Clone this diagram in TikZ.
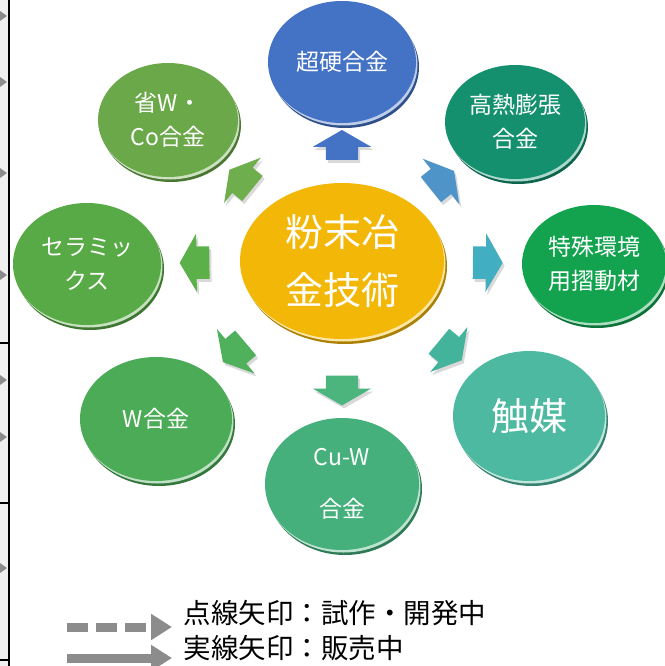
\documentclass[tikz,border=0pt]{standalone}
\usepackage{fontspec}
\setmainfont{Noto Sans CJK JP}
\usetikzlibrary{shapes.geometric,shapes.arrows,arrows.meta}
\definecolor{cgold}{HTML}{F3B707}
\definecolor{cblue}{HTML}{4472C4}
\definecolor{ckou}{HTML}{14906F}
\definecolor{ctoku}{HTML}{13A34F}
\definecolor{csho}{HTML}{4DB9A0}
\definecolor{ccuw}{HTML}{45B07C}
\definecolor{cwg}{HTML}{4CAB57}
\definecolor{ccera}{HTML}{58AA46}
\definecolor{csw}{HTML}{6BA84A}
\definecolor{aur}{HTML}{4E94C8}
\definecolor{ar}{HTML}{41AEC2}
\definecolor{adr}{HTML}{43B49B}
\definecolor{ad}{HTML}{4BB57D}
\definecolor{adl}{HTML}{50B15C}
\definecolor{al}{HTML}{5CB049}
\definecolor{aul}{HTML}{6EAE4C}
\definecolor{lgray}{HTML}{8C8C8C}

\begin{document}
\begin{tikzpicture}[x=1pt,y=-1pt,
  disc/.style={ellipse, fill=#1, text=white, align=center, inner sep=0pt,
    font=\fontsize{23}{34}\selectfont,
    preaction={fill=#1!70!black, transform canvas={shift={(3pt,-5pt)}}},
    preaction={fill=#1!35!white, transform canvas={shift={(1.5pt,-2.5pt)}}}},
  bigarrow/.style={single arrow, fill=#1, inner xsep=10pt, inner ysep=16pt,
    single arrow head extend=13pt, single arrow tip angle=120,
    preaction={fill=black!15, transform canvas={shift={(2pt,-3pt)}}}},
  legend/.style={anchor=west, font=\fontsize{27.5}{30}\selectfont}]
  \useasboundingbox (0,0) rectangle (664,666);

  % left strip
  \fill[gray!12] (0,0) rectangle (9,666);
  \draw[line width=1.3pt] (9,0) -- (9,666);
  \foreach \yy in {343,503,660} \draw[line width=1.3pt] (0,\yy) -- (9,\yy);
  \foreach \yy in {16,82,173,275,380,437,568}
    \fill[lgray] (0,\yy-5) -- (7,\yy) -- (0,\yy+5) -- cycle;

  \node[disc=cgold, minimum width=204pt, minimum height=156pt, font=\fontsize{38}{58}\selectfont] (pm) at (342,261) {粉末冶\\金技術};
  \node[disc=cblue, minimum width=148pt, minimum height=122pt] (cho) at (342,62) {超硬合金};
  \node[disc=ckou, minimum width=140pt, minimum height=114pt] (kou) at (515,122) {高熱膨張\\合金};
  \node[disc=ctoku, minimum width=144pt, minimum height=118pt] (toku) at (594,264) {特殊環境\\用摺動材};
  \node[disc=csho, minimum width=152pt, minimum height=130pt, font=\fontsize{38}{40}\selectfont] (sho) at (529,416) {触媒};
  \node[disc=ccuw, minimum width=154pt, minimum height=132pt, font=\fontsize{23}{52}\selectfont] (cuw) at (342,484) {Cu-W\\合金};
  \node[disc=cwg, minimum width=152pt, minimum height=124pt] (wg) at (156,419) {W合金};
  \node[disc=ccera, minimum width=148pt, minimum height=122pt] (cera) at (87,264) {セラミッ\\クス};
  \node[disc=csw, minimum width=140pt, minimum height=114pt] (sw) at (168,120) {省W・\\Co合金};

  \path[every edge/.style={draw=none}, every node/.style={pos=0.56, sloped, allow upside down}]
    (pm.center) edge node[bigarrow=cblue] (a1) {} (cho.center)
    (pm.center) edge node[bigarrow=aur] (a2) {} (kou.center)
    (pm.center) edge node[bigarrow=ar] (a3) {} (toku.center)
    (pm.center) edge node[bigarrow=adr] (a4) {} (sho.center)
    (pm.center) edge node[bigarrow=ad] (a5) {} (cuw.center)
    (pm.center) edge node[bigarrow=adl] (a6) {} (wg.center)
    (pm.center) edge node[bigarrow=al] (a7) {} (cera.center)
    (pm.center) edge node[bigarrow=aul] (a8) {} (sw.center);

  % legend
  \node[legend] (ldash) at (180,613) {点線矢印：試作・開発中};
  \node[legend] (lsolid) at (180,648) {実線矢印：販売中};
  \coordinate (ds) at (67,627);
  \coordinate (de) at (172,627);
  \coordinate (ss) at (67,658);
  \coordinate (se) at (172,658);
  \draw[lgray, line width=9pt, dash pattern=on 21pt off 8pt, -{Triangle[length=21pt,width=25pt]}] (ds) -- (de);
  \draw[lgray, line width=9pt, -{Triangle[length=21pt,width=25pt]}] (ss) -- (se);
\end{tikzpicture}
\end{document}
